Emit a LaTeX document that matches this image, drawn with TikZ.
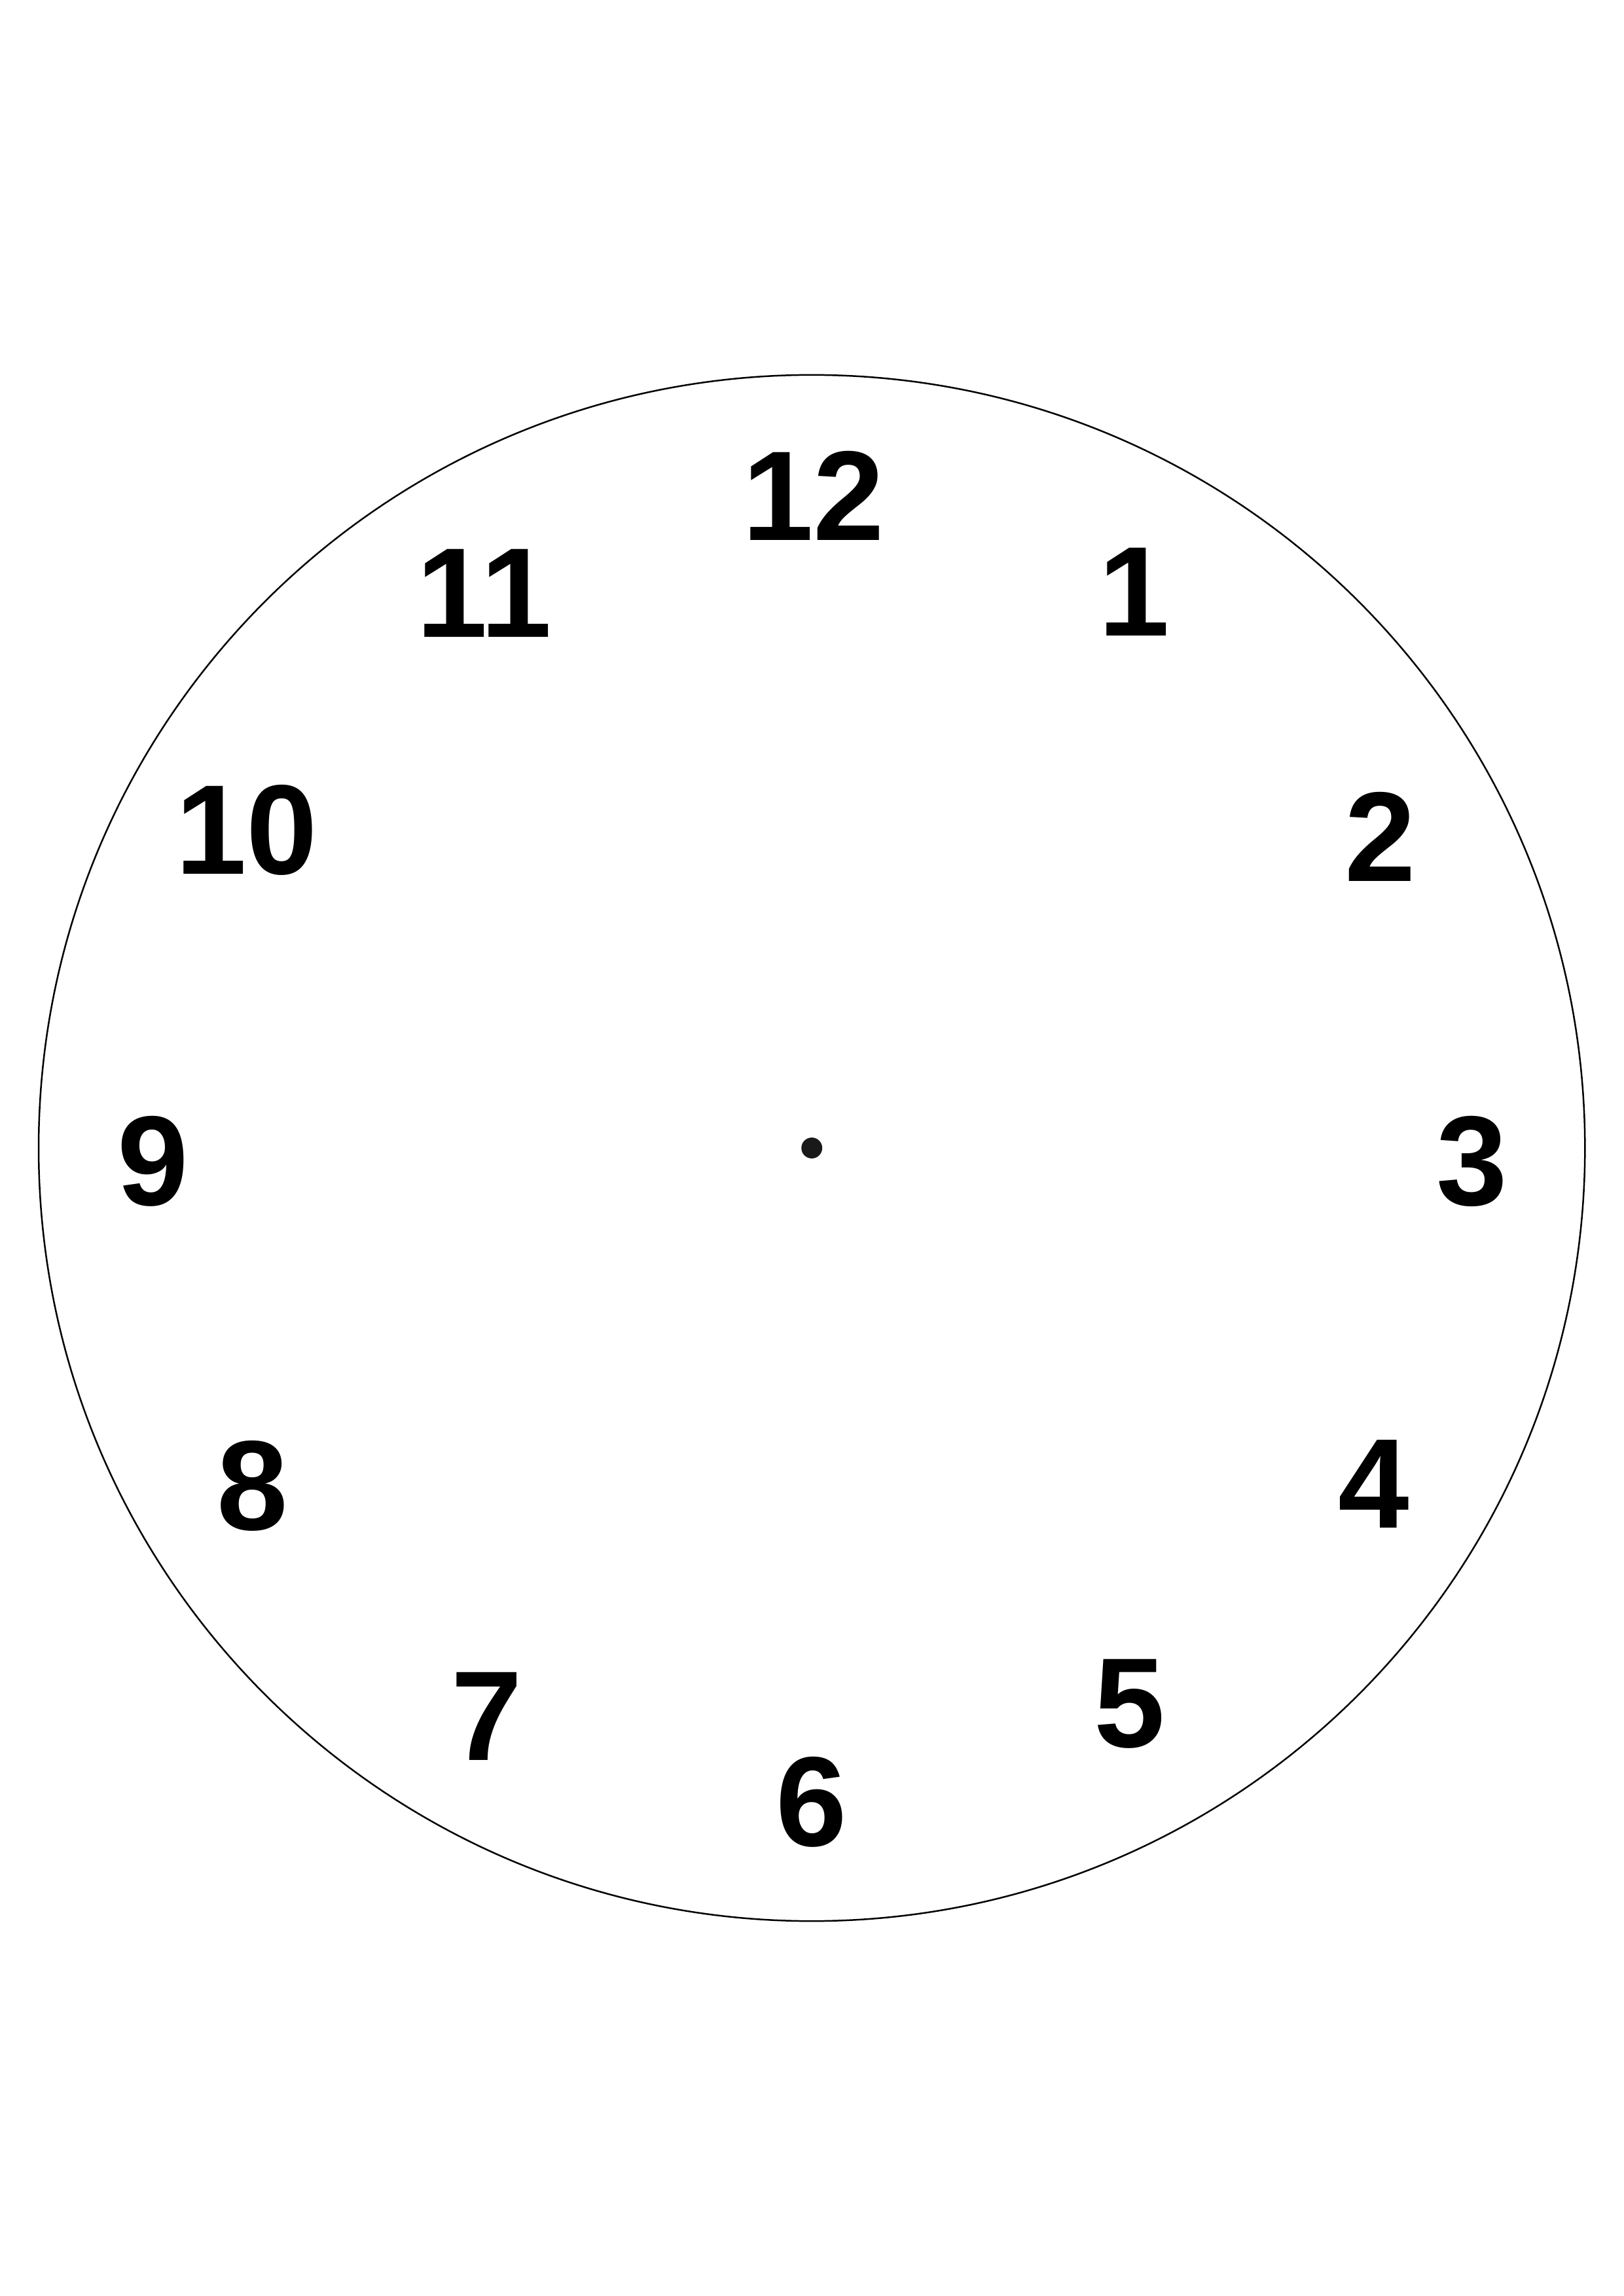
\documentclass[tikz,border=0pt]{standalone}
\usepackage{fontspec}
\newfontfamily\dialfont{Liberation Sans}
\usetikzlibrary{positioning}

\begin{document}
\begin{tikzpicture}[hour/.style={font=\dialfont\bfseries\fontsize{47}{52}\selectfont,inner sep=0pt}]
  \useasboundingbox (-10.5,-14.85) rectangle (10.5,14.85);
  % dial
  \draw[line width=0.6pt] (0,0) circle (10);
  \fill[black!90] (0,0) circle (0.135);
  % hour numbers
  \foreach \h/\x/\y in {12/0.02/8.44, 1/4.17/7.19, 2/7.35/4.03, 3/8.54/-0.17,
                        4/7.27/-4.35, 5/4.11/-7.19, 6/0/-8.46, 7/-4.20/-7.35,
                        8/-7.23/-4.37, 9/-8.52/-0.17, 10/-7.31/4.11, 11/-4.24/7.18}
    \node[hour] (h\h) at (\x,\y) {\h};
\end{tikzpicture}
\end{document}
